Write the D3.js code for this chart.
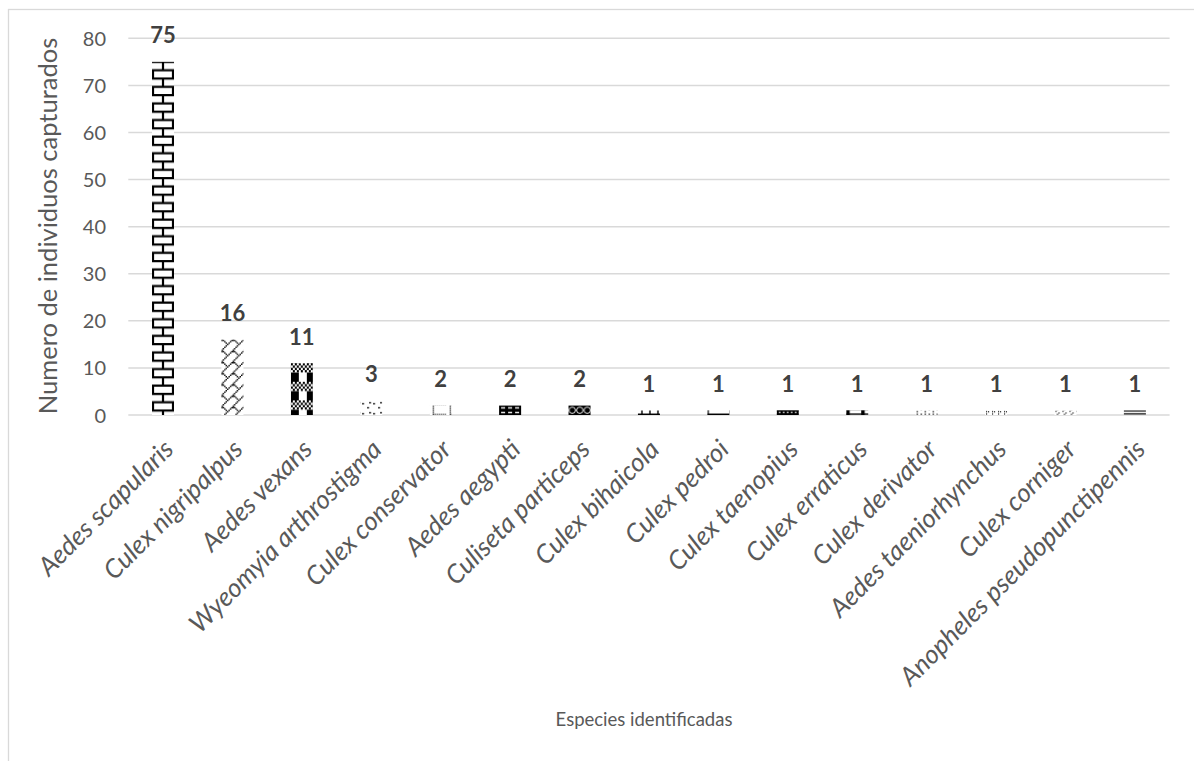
<!DOCTYPE html>
<html>
<head>
<meta charset="utf-8">
<script src="https://cdn.jsdelivr.net/npm/d3@7"></script>
<style>
  body { margin: 0; background: #ffffff; }
  svg { display: block; }
</style>
</head>
<body>
<svg id="chart" width="1194" height="761"></svg>
<script>
// Mosquito species identified and number of individuals captured
const species = [
  "Aedes scapularis", "Culex nigripalpus", "Aedes vexans", "Wyeomyia arthrostigma",
  "Culex conservator", "Aedes aegypti", "Culiseta particeps", "Culex bihaicola",
  "Culex pedroi", "Culex taenopius", "Culex erraticus", "Culex derivator",
  "Aedes taeniorhynchus", "Culex corniger", "Anopheles pseudopunctipennis"
];
const counts = [75, 16, 11, 3, 2, 2, 2, 1, 1, 1, 1, 1, 1, 1, 1];
const yTicks = [0, 10, 20, 30, 40, 50, 60, 70, 80];
const yTitle = "Numero de individuos capturados";
const xTitle = "Especies identificadas";

const FONT = "Lato, 'Open Sans', sans-serif";
const GRID = "#d9d9d9";
const TEXT = "#595959";

const svg = d3.select("#chart");
const W = 1194, H = 761;

svg.append("rect").attr("width", W).attr("height", H).attr("fill", "#fff");
// chart frame (runs past the right and bottom edges)
svg.append("rect")
  .attr("x", 8.5).attr("y", 9.5).attr("width", 1400).attr("height", 1000)
  .attr("fill", "none").attr("stroke", GRID).attr("stroke-width", 1.3);

const x = d3.scaleBand()
  .domain(species)
  .range([128.3, 1169.6])
  .paddingInner(0.683)
  .paddingOuter(0.3415);

const y = d3.scaleLinear().domain([0, 80]).range([415, 38.3]);

// ---- fill patterns, one per bar ----
const defs = svg.append("defs");

function bitmap(p, rows, cw, ch) {
  rows.forEach((row, r) => {
    for (let c = 0; c < row.length; c++) {
      if (row[c] === "1") {
        p.append("rect").attr("x", c * cw).attr("y", r * ch)
          .attr("width", cw).attr("height", ch).attr("fill", "#000");
      }
    }
  });
}
function line(p, d, w) {
  p.append("path").attr("d", d).attr("stroke", "#000")
    .attr("stroke-width", w || 2).attr("fill", "none");
}
function bg(p, w, h, col) {
  p.append("rect").attr("width", w).attr("height", h).attr("fill", col || "#fff");
}
function dots(p, pts, s) {
  pts.forEach(([a, b]) =>
    p.append("rect").attr("x", a).attr("y", b).attr("width", s).attr("height", s).attr("fill", "#000"));
}

const patternMakers = [
  // brick
  p => { const w = 20, h = 16.6; p.attr("width", w).attr("height", h);
    bg(p, w, h);
    line(p, `M0,1H${w} M0,9.3H${w} M10,1V9.3 M0,9.3V17.6 M${w},9.3V17.6`, 2.2);
    return [-(w / 2) + 11, -1]; },
  // shingle
  p => { const c = 1.4; p.attr("width", 8 * c).attr("height", 8 * c);
    bg(p, 8 * c, 8 * c);
    bitmap(p, ["11000001","00100010","00010100","00001000","00010000","00100000","01000000","10000000"], c, c);
    return [0, 0]; },
  // plaid
  p => { const w = 16, h = 18.6; p.attr("width", w).attr("height", h);
    bg(p, w, h);
    bitmap(p, ["10101010","01010101","10101010","01010101"], 2, 2.3);
    p.append("rect").attr("x", 0).attr("y", 9.3).attr("width", 8).attr("height", 9.3).attr("fill", "#000");
    return [0, 0]; },
  // small confetti
  p => { const w = 11, h = 10; p.attr("width", w).attr("height", h);
    bg(p, w, h);
    dots(p, [[2, 2], [7, 6], [9, 1]], 1.6);
    return [0, 0]; },
  // dotted grid
  p => { const w = 17, h = 10; p.attr("width", w).attr("height", h);
    bg(p, w, h);
    for (let i = 0; i < 5; i++) dots(p, [[3, i * 2]], 1.2);
    for (let i = 0; i < 8; i++) dots(p, [[3 + i * 2, 8.4]], 1.2);
    return [0, 0]; },
  // dark weave
  p => { const w = 7, h = 4.7; p.attr("width", w).attr("height", h);
    bg(p, w, h, "#000");
    p.append("rect").attr("x", 2).attr("y", 1.6).attr("width", 4).attr("height", 1.4).attr("fill", "#fff");
    return [0, 0]; },
  // sphere
  p => { const w = 7.5, h = 9.4; p.attr("width", w).attr("height", h);
    bg(p, w, h, "#000");
    p.append("circle").attr("cx", 3.75).attr("cy", 4.7).attr("r", 3.2)
      .attr("fill", "none").attr("stroke", "#fff").attr("stroke-width", 0.9);
    return [0, 0]; },
  // small brick
  p => { const w = 8, h = 9.4; p.attr("width", w).attr("height", h);
    bg(p, w, h);
    line(p, `M0,8.6H${w} M4,4.7V8.6`, 1.4);
    return [0, -4.7]; },
  // large grid corner
  p => { const w = 22, h = 9.4; p.attr("width", w).attr("height", h);
    bg(p, w, h);
    line(p, `M0.7,0V9.4 M0,8.6H${w}`, 1.4);
    return [0, -4.7]; },
  // dense checker
  p => { const w = 4, h = 4.7; p.attr("width", w).attr("height", h);
    bg(p, w, h, "#000");
    p.append("rect").attr("x", 2.2).attr("y", 1.5).attr("width", 1.4).attr("height", 1.4).attr("fill", "#fff");
    return [0, 0]; },
  // blocks with baseline
  p => { const w = 15, h = 4.7; p.attr("width", w).attr("height", h);
    bg(p, w, h);
    p.append("rect").attr("x", 0).attr("y", 0).attr("width", 3.5).attr("height", 4.7).attr("fill", "#000");
    line(p, `M0,3.8H${w}`, 1.3);
    return [0, 0]; },
  // sparse dots
  p => { const w = 8, h = 4.7; p.attr("width", w).attr("height", h);
    bg(p, w, h);
    dots(p, [[1, 1], [1, 3.3], [5, 3.3]], 1.2);
    return [0, 0]; },
  // sparse dots 2
  p => { const w = 6, h = 4.7; p.attr("width", w).attr("height", h);
    bg(p, w, h);
    dots(p, [[1, 1], [3, 1], [1, 3.2]], 1.1);
    return [0, 0]; },
  // sparse dots 3
  p => { const w = 7, h = 4.7; p.attr("width", w).attr("height", h);
    bg(p, w, h);
    dots(p, [[1, 0.6], [4, 2.2], [2.5, 3.4]], 1.1);
    return [0, 0]; },
  // double horizontal lines
  p => { const w = 10, h = 4.7; p.attr("width", w).attr("height", h);
    bg(p, w, h);
    line(p, `M0,0.8H${w} M0,3.6H${w}`, 1.3);
    return [0, 0]; }
];

species.forEach((s, i) => {
  const p = defs.append("pattern")
    .attr("id", "fill-" + i)
    .attr("patternUnits", "userSpaceOnUse");
  const off = patternMakers[i](p);
  p.attr("x", x(s) + off[0]).attr("y", y(counts[i]) + off[1]);
});

// ---- gridlines ----
svg.append("g")
  .selectAll("line")
  .data(yTicks)
  .join("line")
  .attr("x1", x.range()[0]).attr("x2", x.range()[1])
  .attr("y1", d => y(d)).attr("y2", d => y(d))
  .attr("stroke", GRID).attr("stroke-width", 1.5);

// ---- y axis labels ----
const yAxis = d3.axisLeft(y).tickValues(yTicks).tickSize(0).tickPadding(0);
const gy = svg.append("g").attr("transform", "translate(106,0)").call(yAxis);
gy.select(".domain").remove();
gy.selectAll("text")
  .attr("font-family", FONT).attr("font-size", 20)
  .attr("fill", TEXT).attr("dy", "0.35em");

// ---- bars ----
svg.append("g")
  .selectAll("rect")
  .data(species)
  .join("rect")
  .attr("x", d => x(d))
  .attr("width", x.bandwidth())
  .attr("y", (d, i) => y(counts[i]))
  .attr("height", (d, i) => y(0) - y(counts[i]))
  .attr("fill", (d, i) => `url(#fill-${i})`);

// ---- value labels ----
svg.append("g")
  .selectAll("text")
  .data(species)
  .join("text")
  .attr("x", d => x(d) + x.bandwidth() / 2)
  .attr("y", (d, i) => y(counts[i]) - 18.5)
  .attr("text-anchor", "middle")
  .attr("font-family", FONT).attr("font-size", 22).attr("font-weight", "bold")
  .attr("fill", "#404040")
  .text((d, i) => counts[i]);

// ---- category labels ----
svg.append("g")
  .selectAll("text")
  .data(species)
  .join("text")
  .attr("transform", d => `translate(${x(d) + x.bandwidth() / 2 + 12},451) rotate(-45)`)
  .attr("text-anchor", "end")
  .attr("font-family", FONT).attr("font-size", 26).attr("font-style", "italic")
  .attr("fill", TEXT)
  .text(d => d);

// ---- axis titles ----
svg.append("text")
  .attr("transform", "translate(57,226) rotate(-90)")
  .attr("text-anchor", "middle")
  .attr("font-family", FONT).attr("font-size", 25.5)
  .attr("fill", TEXT)
  .text(yTitle);

svg.append("text")
  .attr("x", 644).attr("y", 726)
  .attr("text-anchor", "middle")
  .attr("font-family", FONT).attr("font-size", 18.5)
  .attr("fill", TEXT)
  .text(xTitle);
</script>
</body>
</html>
